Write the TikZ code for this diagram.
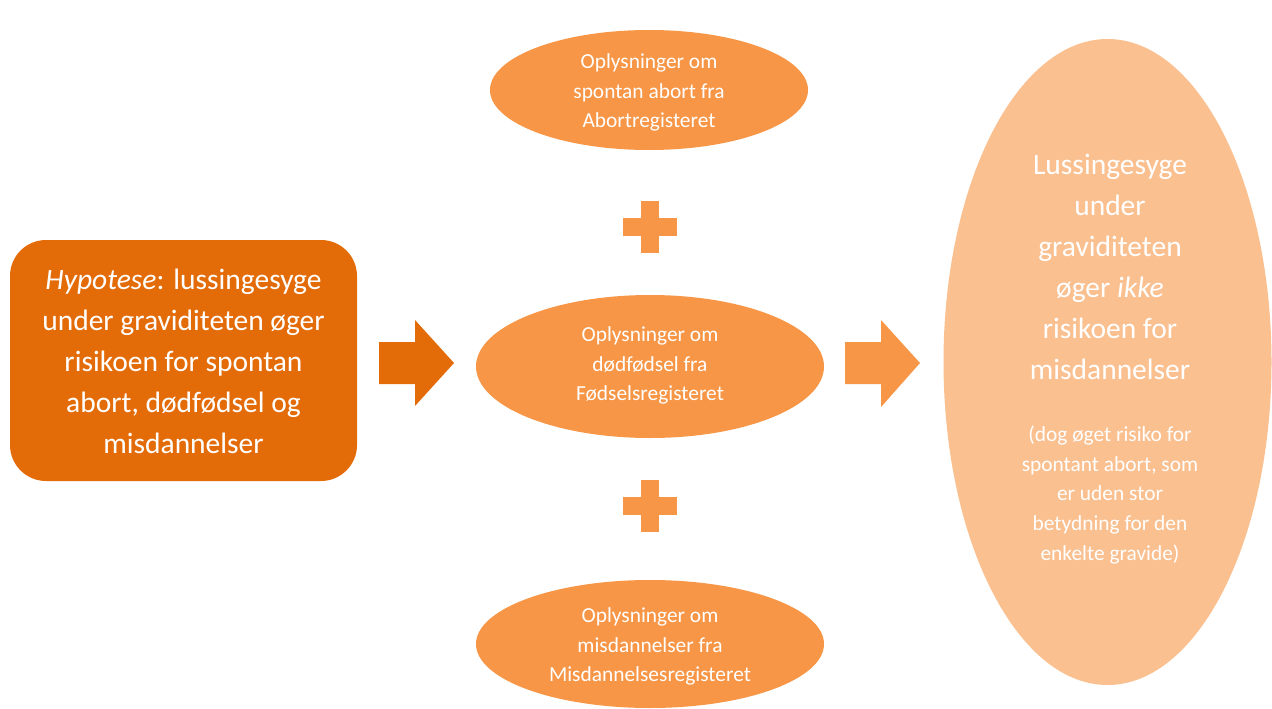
\documentclass[tikz,border=0pt]{standalone}
\usepackage{fontspec}
\setmainfont{Carlito}
\usetikzlibrary{shapes.geometric}
\definecolor{darkorange}{HTML}{E36C09}
\definecolor{midorange}{HTML}{F79646}
\definecolor{lightorange}{HTML}{FAC090}
\tikzset{
  bigtext/.style={text=white, align=center, font=\fontsize{29.5}{41}\selectfont},
  smalltext/.style={text=white, align=center, font=\fontsize{21.4}{29.7}\selectfont},
  source/.style={ellipse, fill=midorange, inner sep=0pt},
}
\begin{document}
\begin{tikzpicture}[x=1pt, y=-1pt]
\useasboundingbox (0,0) rectangle (1272,709);

% hypothesis box
\node[fill=darkorange, rounded corners=36pt, minimum width=347pt, minimum height=241pt,
      inner sep=0pt] (hyp) at (183.5,360.5) {};
\node[bigtext] (hypT) at (183.5,361.5)
  {\textit{Hypotese}: lussingesyge\\under graviditeten øger\\risikoen for spontan\\abort, dødfødsel og\\misdannelser};

% register sources
\node[source, minimum width=318pt, minimum height=120pt] (abort) at (649,90) {};
\node[smalltext] (abortT) at (649,92.5) {Oplysninger om\\spontan abort fra\\Abortregisteret};

\node[source, minimum width=348pt, minimum height=143pt] (fodsel) at (650,366.5) {};
\node[smalltext] (fodselT) at (650,365.5) {Oplysninger om\\dødfødsel fra\\Fødselsregisteret};

\node[source, minimum width=348pt, minimum height=128pt] (misd) at (650,644) {};
\node[smalltext] (misdT) at (650,646.5) {Oplysninger om\\misdannelser fra\\Misdannelsesregisteret};

% conclusion
\node[ellipse, fill=lightorange, minimum width=328pt, minimum height=646pt, inner sep=0pt]
  (concl) at (1107.5,362) {};
\node[bigtext] (conclT) at (1110,267)
  {Lussingesyge\\under\\graviditeten\\øger \textit{ikke}\\risikoen for\\misdannelser};
\node[smalltext] (conclS) at (1110,495)
  {(dog øget risiko for\\spontant abort, som\\er uden stor\\betydning for den\\enkelte gravide)};

% block arrows
\fill[darkorange] (379,342) -- (415,342) -- (415,320) -- (454,363) -- (415,406)
  -- (415,384) -- (379,384) -- cycle;
\fill[midorange] (845,342) -- (881,342) -- (881,320) -- (920,363) -- (881,407)
  -- (881,384) -- (845,384) -- cycle;

% plus signs
\foreach \cy in {227,506} {
  \fill[midorange] (641,\cy-26) rectangle (659,\cy+26);
  \fill[midorange] (623,\cy-9) rectangle (677,\cy+9);
}
\end{tikzpicture}
\end{document}
